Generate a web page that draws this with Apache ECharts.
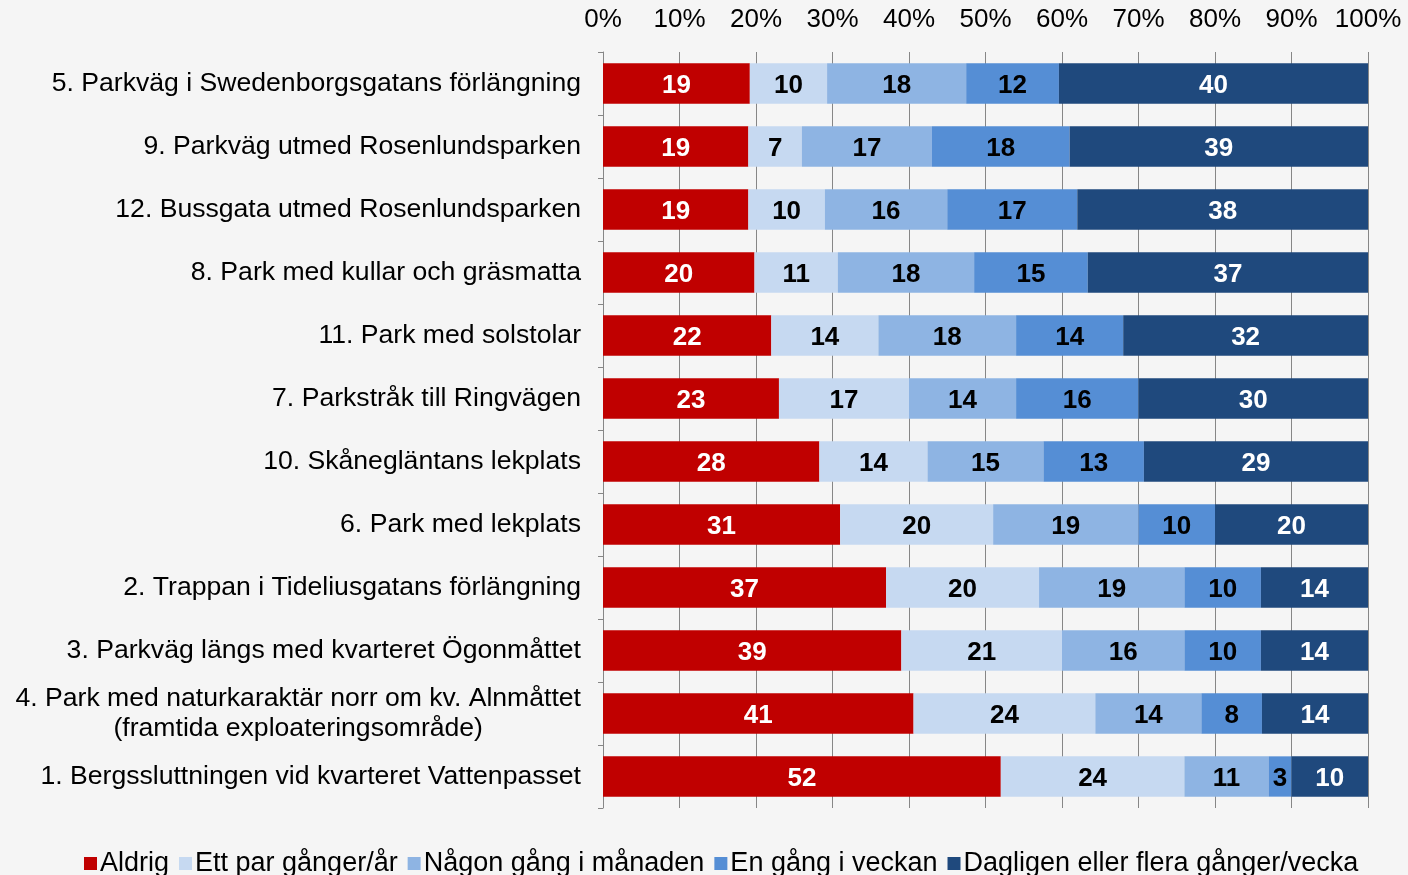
<!DOCTYPE html>
<html>
<head>
<meta charset="utf-8">
<script src="https://cdn.jsdelivr.net/npm/echarts@6/dist/echarts.min.js"></script>
<style>
html,body{margin:0;padding:0;background:#f5f5f5;}
#chart{width:1408px;height:875px;}
</style>
</head>
<body>
<div id="chart"></div>
<script>
const categories = [
  "5. Parkväg i Swedenborgsgatans förlängning",
  "9. Parkväg utmed Rosenlundsparken",
  "12. Bussgata utmed Rosenlundsparken",
  "8. Park med kullar och gräsmatta",
  "11. Park med solstolar",
  "7. Parkstråk till Ringvägen",
  "10. Skånegläntans lekplats",
  "6. Park med lekplats",
  "2. Trappan i Tideliusgatans förlängning",
  "3. Parkväg längs med kvarteret Ögonmåttet",
  "4. Park med naturkaraktär norr om kv. Alnmåttet\n(framtida exploateringsområde)",
  "1. Bergssluttningen vid kvarteret Vattenpasset"
];
const seriesNames = ["Aldrig", "Ett par gånger/år", "Någon gång i månaden", "En gång i veckan", "Dagligen eller flera gånger/vecka"];
const aldrig    = [19, 19, 19, 20, 22, 23, 28, 31, 37, 39, 41, 52];
const ettPar    = [10,  7, 10, 11, 14, 17, 14, 20, 20, 21, 24, 24];
const nagonGang = [18, 17, 16, 18, 18, 14, 15, 19, 19, 16, 14, 11];
const enGang    = [12, 18, 17, 15, 14, 16, 13, 10, 10, 10,  8,  3];
const dagligen  = [40, 39, 38, 37, 32, 30, 29, 20, 14, 14, 14, 10];
const tickLabels = ["0%","10%","20%","30%","40%","50%","60%","70%","80%","90%","100%"];

const colors = ["#C00000", "#C6D9F1", "#8EB4E3", "#558ED5", "#1F497D"];
const labelColors = ["#ffffff", "#000000", "#000000", "#000000", "#ffffff"];
const raw = [aldrig, ettPar, nagonGang, enGang, dagligen];
const totals = categories.map((c, i) => raw.reduce((s, arr) => s + arr[i], 0));

const FONT = "'Liberation Sans', Arial, sans-serif";
const catFont = 26.6;

// center the continuation lines of multi-line category labels under the first line
const ctx = document.createElement('canvas').getContext('2d');
ctx.font = catFont + "px 'Liberation Sans'";
const richStyles = { a: { fontSize: catFont, fontFamily: FONT, color: '#000', lineHeight: 30 } };
categories.forEach((v, i) => {
  const lines = v.split('\n');
  if (lines.length > 1) {
    const w0 = ctx.measureText(lines[0]).width;
    for (let k = 1; k < lines.length; k++) {
      const wk = ctx.measureText(lines[k]).width;
      richStyles['p' + i + '_' + k] = { fontSize: catFont, fontFamily: FONT, color: '#000', lineHeight: 30, padding: [0, Math.max(0, (w0 - wk) / 2), 0, 0] };
    }
  }
});
function catLabel(v) {
  const i = categories.indexOf(v);
  const lines = v.split('\n');
  return lines.map((l, k) => k === 0 ? '{a|' + l + '}' : '{p' + i + '_' + k + '|' + l + '}').join('\n');
}

const chart = echarts.init(document.getElementById('chart'));
chart.setOption({
  backgroundColor: '#f5f5f5',
  animation: false,
  textStyle: { fontFamily: FONT },
  grid: { left: 603, right: 40, top: 52, bottom: 67, containLabel: false },
  legend: {
    top: 845,
    left: 79,
    icon: 'rect',
    itemWidth: 13,
    itemHeight: 13,
    itemGap: 10,
    textStyle: { fontSize: 27, color: '#000', fontFamily: FONT, padding: [0, 0, 0, -2] },
    data: seriesNames
  },
  xAxis: {
    type: 'value',
    position: 'top',
    min: 0,
    max: 100,
    interval: 10,
    axisLine: { show: false },
    axisTick: { show: false },
    axisLabel: {
      fontSize: 26, color: '#000', fontFamily: FONT, margin: 19,
      formatter: (v) => tickLabels[Math.round(v / 10)]
    },
    splitLine: { show: true, lineStyle: { color: '#868686', width: 1 } }
  },
  yAxis: {
    type: 'category',
    inverse: true,
    data: categories,
    axisLine: { show: true, lineStyle: { color: '#868686', width: 1 } },
    axisTick: { show: true, length: 5, lineStyle: { color: '#868686' } },
    axisLabel: { margin: 22, formatter: catLabel, rich: richStyles },
    splitLine: { show: false }
  },
  series: seriesNames.map((name, s) => ({
    name: name,
    type: 'bar',
    stack: 'total',
    barCategoryGap: '36%',
    itemStyle: { color: colors[s] },
    label: {
      show: true,
      position: 'inside',
      color: labelColors[s],
      fontSize: 26,
      fontWeight: 'bold',
      fontFamily: FONT,
      offset: [0, 2],
      formatter: (p) => String(raw[s][p.dataIndex])
    },
    data: raw[s].map((v, i) => v / totals[i] * 100)
  }))
});
</script>
</body>
</html>
